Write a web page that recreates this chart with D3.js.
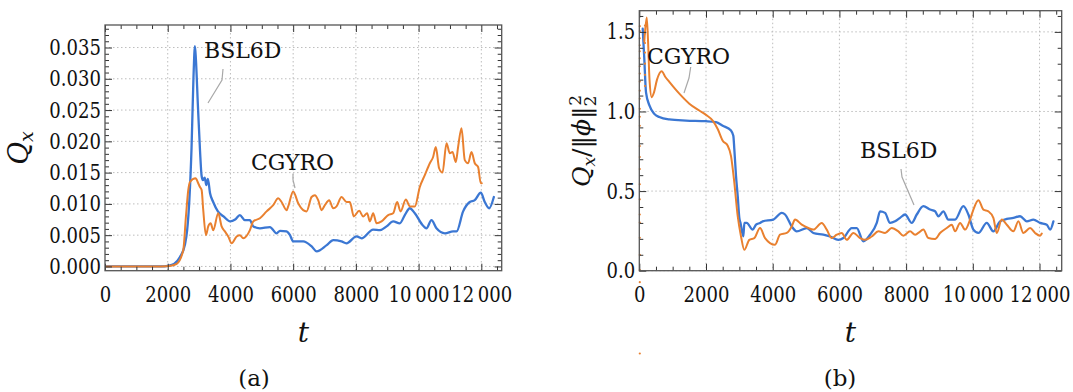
<!DOCTYPE html>
<html>
<head>
<meta charset="utf-8">
<script src="https://cdn.jsdelivr.net/npm/d3@7"></script>
<style>
  html, body { margin: 0; padding: 0; background: #fff; }
  svg { display: block; }
  svg text { font-family: 'DejaVu Serif', serif; fill: #111; }
</style>
</head>
<body>
<svg id="fig" width="1073" height="392"></svg>
<script>
// ---- data: heat flux Q_x over time t ----
const xTicks = [0, 2000, 4000, 6000, 8000, 10000, 12000];
const xTickLabels = ["0", "2000", "4000", "6000", "8000", "10\u2009000", "12\u2009000"];
const yTicksA = [0, 0.005, 0.010, 0.015, 0.020, 0.025, 0.030, 0.035];
const yTickLabelsA = ["0.000", "0.005", "0.010", "0.015", "0.020", "0.025", "0.030", "0.035"];
const yTicksB = [0, 0.5, 1.0, 1.5];
const yTickLabelsB = ["0.0", "0.5", "1.0", "1.5"];

// (a) Q_x, BSL6D
const bsl6dA = [[0,0],[1800,0],[2000,0.0001],[2200,0.0004],[2390,0.0015],[2550,0.0035],[2620,0.0058],[2690,0.0106],[2760,0.019],[2820,0.030],[2868,0.0352],[2900,0.033],[2960,0.026],[3030,0.0185],[3080,0.0145],[3120,0.0138],[3180,0.0142],[3230,0.0130],[3280,0.0140],[3350,0.0117],[3450,0.0103],[3600,0.0088],[3780,0.0080],[3990,0.0072],[4150,0.0075],[4300,0.0082],[4460,0.0074],[4620,0.0074],[4730,0.0064],[4940,0.0061],[5260,0.0063],[5470,0.0053],[5580,0.0057],[5790,0.0056],[5900,0.0050],[6000,0.0040],[6320,0.0040],[6590,0.0032],[6750,0.0024],[7070,0.0034],[7280,0.0042],[7540,0.0040],[7700,0.0037],[8020,0.0048],[8180,0.0045],[8550,0.0059],[8770,0.0058],[8980,0.0064],[9190,0.0072],[9400,0.0069],[9560,0.0082],[9720,0.0093],[9880,0.0085],[10145,0.0065],[10250,0.0061],[10410,0.0074],[10570,0.0061],[10840,0.0053],[11100,0.0056],[11210,0.0056],[11420,0.0088],[11630,0.0103],[11790,0.0106],[11984,0.0118],[12110,0.0103],[12250,0.0093],[12400,0.0111]];

// (a) Q_x, CGYRO
const cgyroA = [[0,0],[1800,0],[2100,0.0001],[2285,0.0004],[2495,0.0026],[2581,0.0080],[2655,0.0122],[2709,0.0135],[2890,0.0141],[2973,0.0133],[3028,0.0127],[3082,0.0122],[3133,0.0090],[3219,0.0050],[3292,0.0064],[3369,0.0069],[3451,0.0058],[3611,0.0085],[3719,0.0064],[3824,0.0056],[3930,0.0048],[4038,0.0037],[4197,0.0048],[4302,0.0050],[4408,0.0045],[4621,0.0058],[4726,0.0072],[4940,0.0077],[5153,0.0088],[5364,0.0098],[5523,0.0109],[5631,0.0103],[5791,0.0090],[5842,0.0096],[6000,0.0120],[6161,0.0101],[6320,0.0090],[6428,0.0088],[6587,0.0111],[6693,0.0114],[6798,0.0106],[6906,0.0090],[7011,0.0098],[7148,0.0106],[7276,0.0093],[7384,0.0096],[7543,0.0111],[7703,0.0103],[7808,0.0103],[7935,0.0080],[8105,0.0089],[8232,0.0080],[8359,0.0085],[8446,0.0072],[8551,0.0085],[8659,0.0069],[8818,0.0072],[9029,0.0082],[9188,0.0085],[9316,0.0103],[9424,0.0088],[9593,0.0107],[9720,0.0096],[9880,0.0096],[10039,0.0127],[10198,0.0146],[10358,0.0165],[10463,0.0175],[10549,0.0191],[10654,0.0157],[10762,0.0150],[10890,0.0197],[10995,0.0181],[11081,0.0183],[11186,0.0167],[11260,0.0191],[11368,0.0221],[11473,0.0170],[11578,0.0165],[11687,0.0183],[11792,0.0165],[11897,0.0159],[11983,0.0133],[12015,0.0133]];

// (b) Q_x / ||phi||_2^2, BSL6D
const bsl6dB = [[102,1.52],[150,1.33],[201,1.12],[300,1.04],[450,0.985],[600,0.965],[900,0.950],[1400,0.943],[2000,0.939],[2300,0.933],[2501,0.911],[2750,0.880],[2819,0.848],[2849,0.764],[2900,0.595],[2951,0.468],[3000,0.330],[3035,0.300],[3119,0.215],[3150,0.300],[3220,0.300],[3400,0.258],[3500,0.289],[3620,0.300],[3700,0.310],[4019,0.321],[4271,0.363],[4370,0.353],[4571,0.278],[4721,0.247],[5020,0.268],[5218,0.237],[5518,0.226],[5719,0.215],[5968,0.194],[6118,0.205],[6370,0.268],[6520,0.268],[6718,0.184],[6919,0.226],[7120,0.300],[7219,0.373],[7369,0.363],[7519,0.300],[7669,0.310],[7819,0.332],[7969,0.353],[8169,0.300],[8319,0.353],[8517,0.405],[8718,0.384],[8868,0.373],[8967,0.342],[9117,0.373],[9267,0.321],[9468,0.321],[9717,0.405],[9867,0.353],[10017,0.258],[10167,0.237],[10418,0.300],[10616,0.247],[10817,0.310],[11018,0.325],[11216,0.332],[11417,0.342],[11618,0.310],[11816,0.321],[12017,0.300],[12218,0.289],[12317,0.258],[12416,0.310]];

// (b) Q_x / ||phi||_2^2, CGYRO
const cgyroB = [[150,1.44],[222,1.59],[261,1.45],[306,1.20],[372,1.09],[441,1.12],[531,1.20],[672,1.253],[771,1.22],[900,1.186],[1200,1.112],[1500,1.049],[1799,1.006],[2000,0.979],[2201,0.943],[2351,0.890],[2501,0.816],[2651,0.785],[2750,0.720],[2849,0.553],[2951,0.342],[3050,0.215],[3149,0.131],[3299,0.194],[3449,0.205],[3620,0.268],[3770,0.205],[4070,0.163],[4220,0.226],[4421,0.237],[4571,0.278],[4670,0.321],[4871,0.289],[5068,0.268],[5218,0.258],[5470,0.300],[5620,0.258],[5770,0.205],[5920,0.226],[6070,0.237],[6220,0.194],[6418,0.237],[6619,0.205],[6769,0.194],[6970,0.215],[7168,0.247],[7369,0.237],[7569,0.268],[7767,0.247],[7917,0.220],[8118,0.247],[8268,0.226],[8367,0.237],[8517,0.258],[8667,0.205],[8868,0.199],[9018,0.237],[9219,0.268],[9369,0.289],[9468,0.247],[9618,0.300],[9768,0.258],[9918,0.321],[10017,0.384],[10167,0.443],[10317,0.384],[10467,0.373],[10616,0.332],[10718,0.237],[10868,0.321],[11018,0.289],[11216,0.247],[11366,0.310],[11516,0.237],[11717,0.268],[11867,0.237],[12017,0.220],[12068,0.233]];

// (b) CGYRO start-up samples (isolated points near t = 0)
const cgyroBStart = [[15,1.536],[15,1.505],[15,1.46],[15,1.416],[15,1.378],[15,1.334],[15,1.284],[15,1.238],[15,1.188],[15,1.131],[15,1.08],[15,1.017],[15,0.967],[15,0.91],[15,0.846],[15,0.783],[15,0.714],[15,0.638],[15,0.543],[15,0.448],[15,0.353],[15,0.302],[15,0.207],[15,0.099],[15,0.004],[15,-0.072],[15,-0.52],[170,1.54],[170,1.49],[170,1.43],[170,1.37],[170,1.30],[170,1.23],[170,1.16]];

const blue = "#3b77d3";
const orange = "#e9802f";

const svg = d3.select("#fig");

function panel(opts) {
  const g = svg.append("g");
  const x = d3.scaleLinear().domain(opts.xDomain).range([opts.left, opts.right]);
  const y = d3.scaleLinear().domain(opts.yDomain).range([opts.bottom, opts.top]);
  const clipId = "clip-" + opts.id;
  svg.append("clipPath").attr("id", clipId)
    .append("rect").attr("x", opts.left).attr("y", opts.top)
    .attr("width", opts.right - opts.left).attr("height", opts.bottom - opts.top);

  // dotted grid at the major ticks
  const grid = g.append("g").attr("stroke", "#bdbdbd").attr("stroke-width", 1)
    .attr("stroke-dasharray", "1.5,2.5");
  grid.selectAll(".gx").data(xTicks.filter(d => d > 0)).join("line")
    .attr("x1", d => x(d)).attr("x2", d => x(d)).attr("y1", opts.top).attr("y2", opts.bottom);
  grid.selectAll(".gy").data(opts.yTicks).join("line")
    .attr("y1", d => y(d)).attr("y2", d => y(d)).attr("x1", opts.left).attr("x2", opts.right);

  // time series
  const line = d3.line().x(d => x(d[0])).y(d => y(d[1])).curve(d3.curveMonotoneX);
  const curves = g.append("g").attr("clip-path", `url(#${clipId})`).attr("fill", "none")
    .attr("stroke-linejoin", "round").attr("stroke-linecap", "round");
  opts.series.forEach(s => {
    curves.append("path").datum(s.data).attr("d", line)
      .attr("stroke", s.color).attr("stroke-width", s.width);
  });
  if (opts.points) {
    g.append("g").selectAll("circle").data(opts.points).join("circle")
      .attr("cx", d => x(d[0])).attr("cy", d => y(d[1])).attr("r", 1.1).attr("fill", orange);
  }

  // frame with inward major/minor ticks on all four sides
  const frame = g.append("g");
  const styleAxis = sel => {
    sel.attr("font-family", null).attr("font-size", null);
    sel.select(".domain").remove();
    sel.selectAll(".tick line").attr("stroke", "#333").attr("stroke-width", 1);
    sel.selectAll("text").style("font-size", "22px").attr("fill", "#111")
      .attr("transform", "scale(0.82,1)");
  };
  const xMinor = d3.range(0, opts.xDomain[1], 500).filter(v => v % 2000 !== 0);
  const yMinor = opts.yMinor;

  frame.append("g").attr("transform", `translate(0,${opts.bottom})`)
    .call(d3.axisBottom(x).tickValues(xTicks).tickFormat((d, i) => xTickLabels[i]).tickSize(-7).tickPadding(16))
    .call(styleAxis);
  frame.append("g").attr("transform", `translate(0,${opts.bottom})`)
    .call(d3.axisBottom(x).tickValues(xMinor).tickFormat("").tickSize(-4)).call(styleAxis);
  frame.append("g").attr("transform", `translate(0,${opts.top})`)
    .call(d3.axisTop(x).tickValues(xTicks).tickFormat("").tickSize(-7)).call(styleAxis);
  frame.append("g").attr("transform", `translate(0,${opts.top})`)
    .call(d3.axisTop(x).tickValues(xMinor).tickFormat("").tickSize(-4)).call(styleAxis);

  frame.append("g").attr("transform", `translate(${opts.left},0)`)
    .call(d3.axisLeft(y).tickValues(opts.yTicks).tickFormat((d, i) => opts.yTickLabels[i]).tickSize(-7).tickPadding(5))
    .call(styleAxis);
  frame.append("g").attr("transform", `translate(${opts.left},0)`)
    .call(d3.axisLeft(y).tickValues(yMinor).tickFormat("").tickSize(-4)).call(styleAxis);
  frame.append("g").attr("transform", `translate(${opts.right},0)`)
    .call(d3.axisRight(y).tickValues(opts.yTicks).tickFormat("").tickSize(-7)).call(styleAxis);
  frame.append("g").attr("transform", `translate(${opts.right},0)`)
    .call(d3.axisRight(y).tickValues(yMinor).tickFormat("").tickSize(-4)).call(styleAxis);

  frame.append("rect").attr("x", opts.left).attr("y", opts.top)
    .attr("width", opts.right - opts.left).attr("height", opts.bottom - opts.top)
    .attr("fill", "none").attr("stroke", "#555").attr("stroke-width", 1.3);

  // axis title and panel caption
  g.append("text").attr("x", (opts.left + opts.right) / 2).attr("y", 342)
    .attr("text-anchor", "middle").style("font-size", "28px").style("font-style", "italic").text("t");
  g.append("text").attr("x", opts.captionX).attr("y", 386)
    .attr("text-anchor", "middle").style("font-size", "23px").text(opts.caption);

  // series callouts
  opts.callouts.forEach(c => {
    g.append("text").attr("x", c.tx).attr("y", c.ty).style("font-size", "22px").text(c.label);
    g.append("path").attr("d", d3.line()(c.leader)).attr("fill", "none")
      .attr("stroke", "#a8a8a8").attr("stroke-width", 1.2);
  });
  return { g, x, y };
}

const yMinorA = d3.range(0, 0.0386, 0.001).filter(v => Math.abs(v * 1000 % 5) > 1e-6 && Math.abs(v * 1000 % 5 - 5) > 1e-6);
const yMinorB = d3.range(0.1, 1.62, 0.1).filter(v => Math.abs((v * 10) % 5) > 1e-6 && Math.abs((v * 10) % 5 - 5) > 1e-6);

panel({
  id: "a", left: 105, right: 501.7, top: 25, bottom: 270.7,
  xDomain: [0, 12650], yDomain: [-0.00068, 0.0386],
  yTicks: yTicksA, yTickLabels: yTickLabelsA, yMinor: yMinorA,
  series: [{ data: bsl6dA, color: blue, width: 2.3 }, { data: cgyroA, color: orange, width: 2 }],
  caption: "(a)", captionX: 254,
  callouts: [
    { label: "BSL6D", tx: 204, ty: 58, leader: [[223, 69], [222, 80], [208, 103]] },
    { label: "CGYRO", tx: 251, ty: 170, leader: [[293, 174], [293, 180], [295, 188]] }
  ]
});

panel({
  id: "b", left: 639.3, right: 1061.7, top: 10.7, bottom: 270.7,
  xDomain: [0, 12665], yDomain: [0, 1.633],
  yTicks: yTicksB, yTickLabels: yTickLabelsB, yMinor: yMinorB,
  series: [{ data: bsl6dB, color: blue, width: 2.3 }, { data: cgyroB, color: orange, width: 2 }],
  points: cgyroBStart,
  caption: "(b)", captionX: 840,
  callouts: [
    { label: "CGYRO", tx: 647, ty: 64, leader: [[690.7, 67], [689, 78], [684, 93]] },
    { label: "BSL6D", tx: 860, ty: 158, leader: [[901, 169], [902, 177], [914, 205]] }
  ]
});

// y-axis titles
svg.append("text").attr("transform", "translate(28,148) rotate(-90)")
  .attr("text-anchor", "middle").style("font-size", "28px")
  .call(t => {
    t.append("tspan").style("font-style", "italic").text("Q");
    t.append("tspan").style("font-style", "italic").style("font-size", "19px").attr("dy", 5).text("x");
  });

svg.append("text").attr("transform", "translate(590,141) rotate(-90)")
  .attr("text-anchor", "middle").style("font-size", "25px")
  .call(t => {
    t.append("tspan").style("font-style", "italic").text("Q");
    t.append("tspan").style("font-style", "italic").style("font-size", "17px").attr("dy", 5).text("x");
    t.append("tspan").attr("dy", -5).text("/\u2016");
    t.append("tspan").style("font-style", "italic").text("\u03d5");
    t.append("tspan").text("\u2016");
    t.append("tspan").style("font-size", "17px").attr("dy", 6).text("2");
    t.append("tspan").style("font-size", "17px").attr("dx", -10).attr("dy", -15).text("2");
  });
</script>
</body>
</html>
